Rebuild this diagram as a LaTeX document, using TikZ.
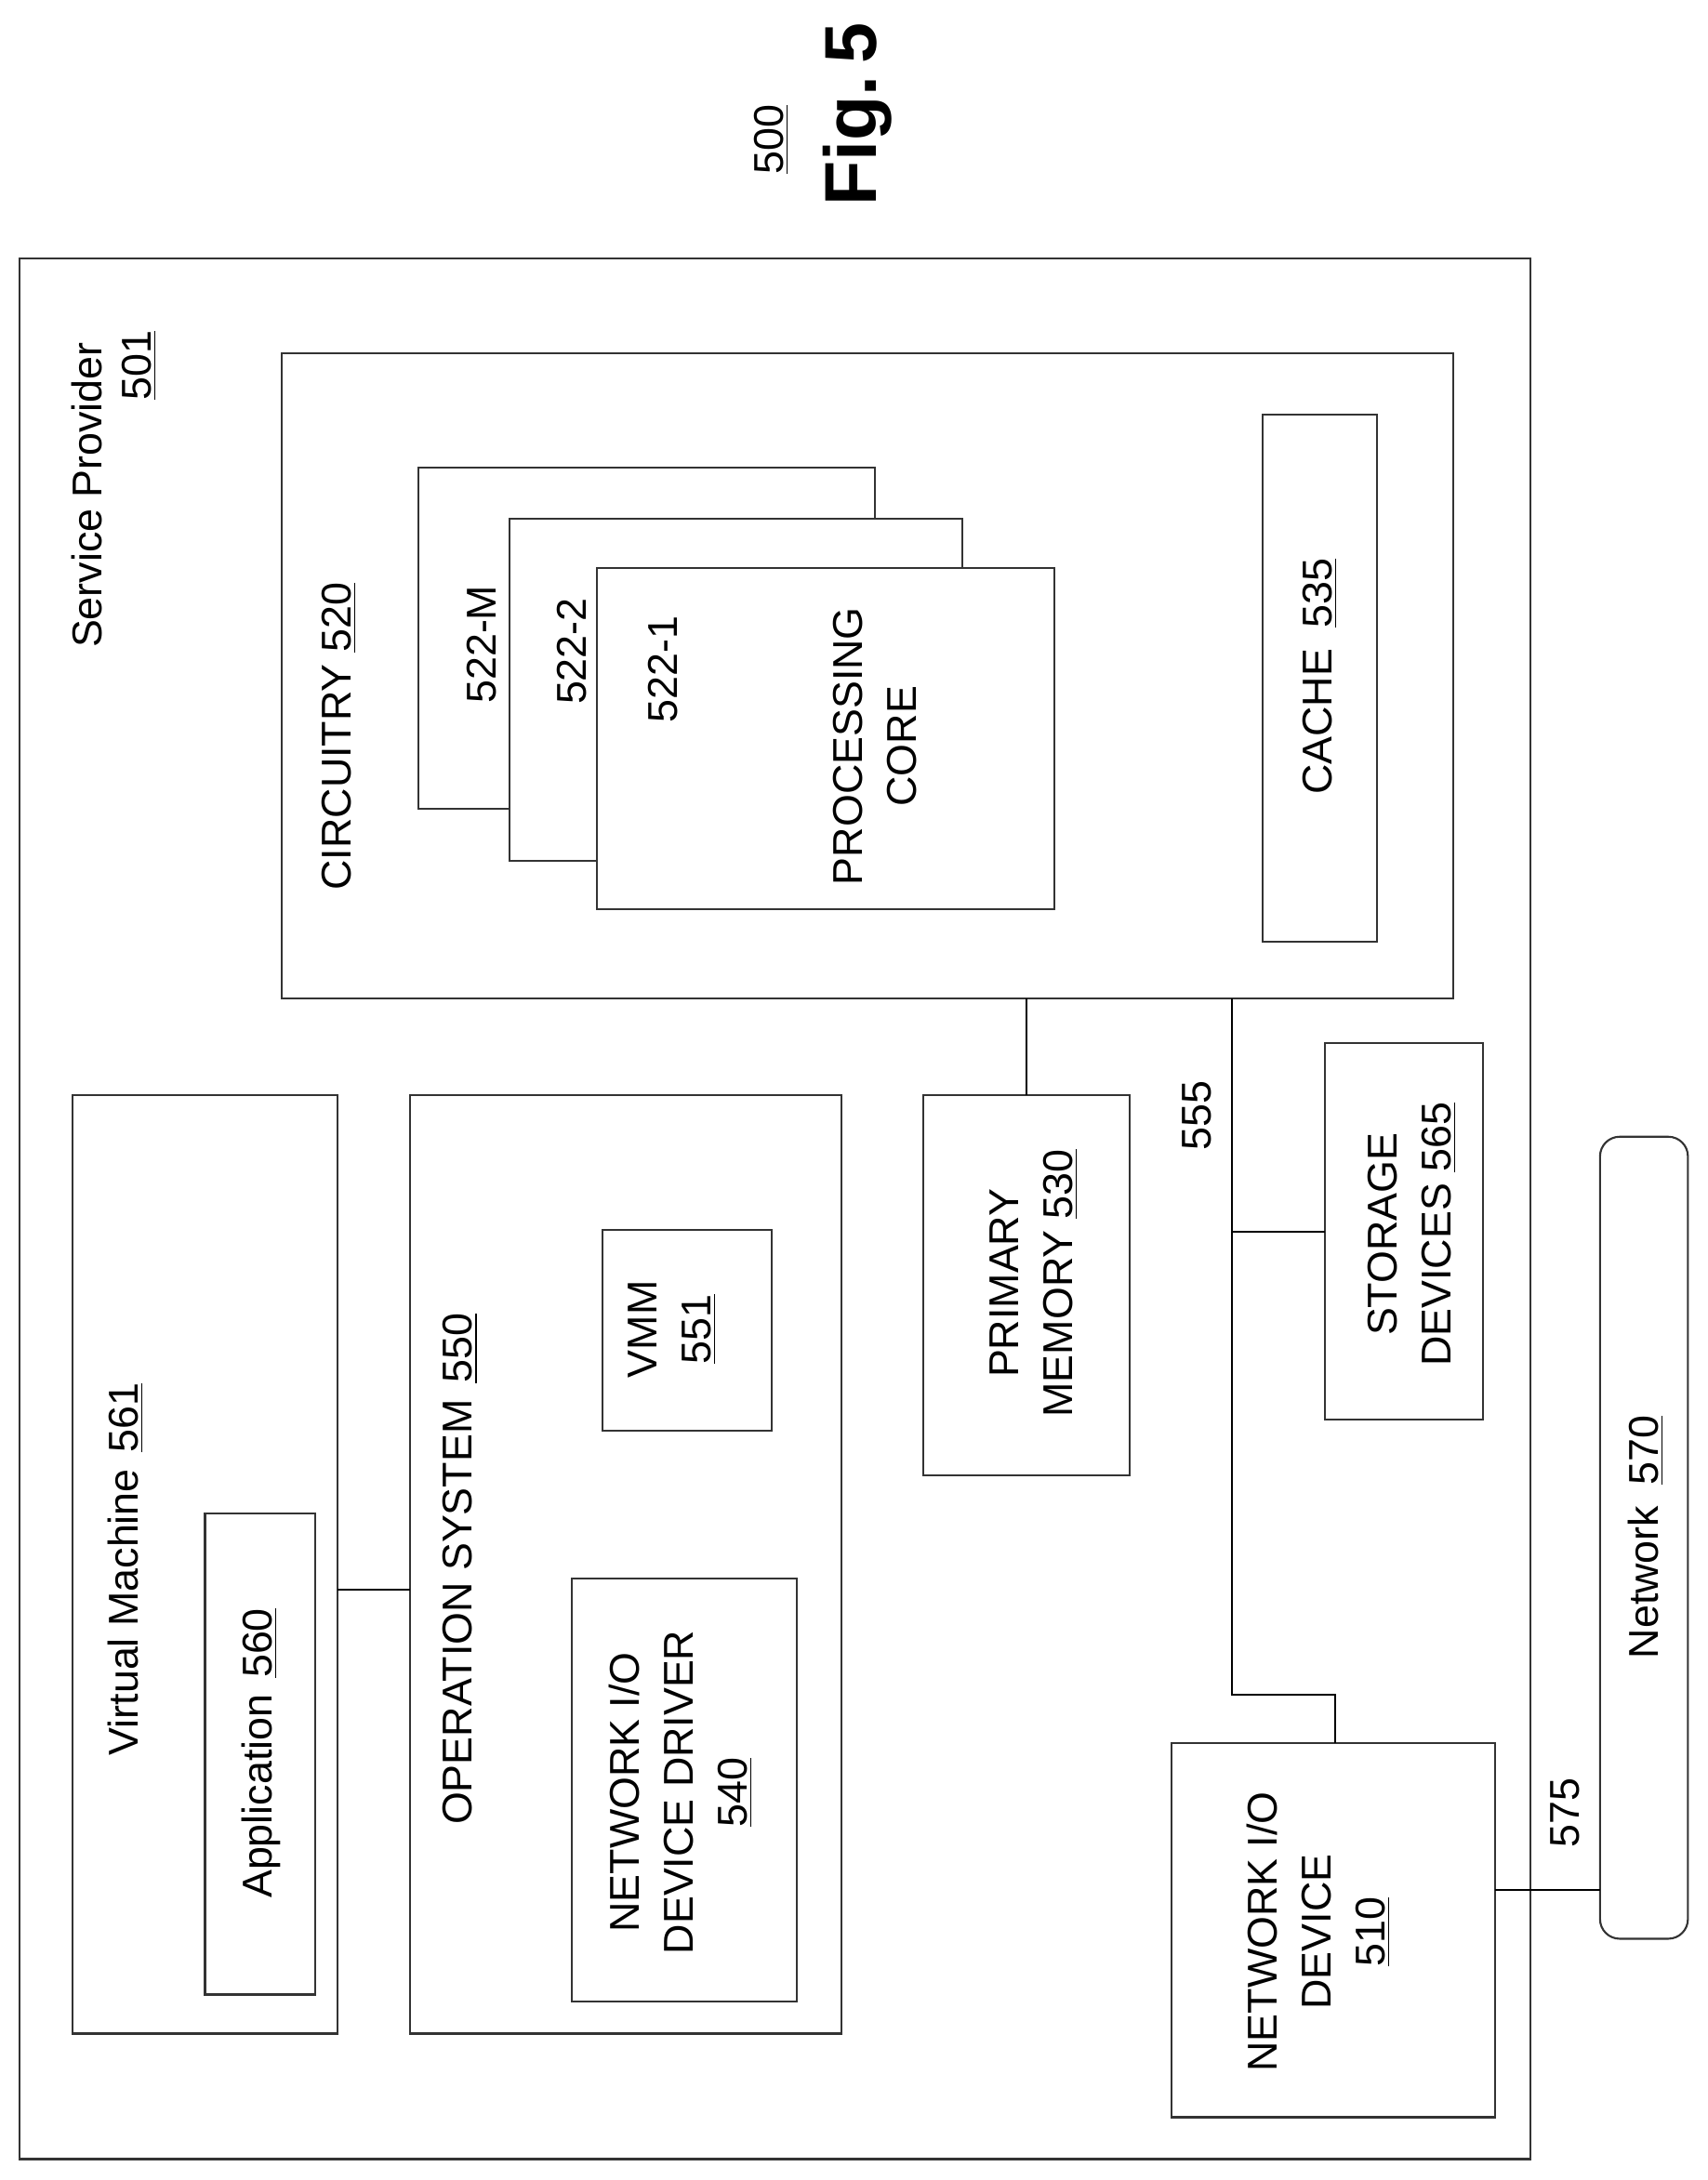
\documentclass[tikz,border=0pt]{standalone}
\usepackage{fontspec}
\setmainfont{Liberation Sans}
\usetikzlibrary{positioning}

\begin{document}
\begin{tikzpicture}[x=0.02cm, y=-0.02cm,
            box/.style={draw=black!80, thick},
            txt/.style={rotate=90, font=\fontsize{17}{22}\selectfont, inner sep=0pt},
            bus/.style={thick}
        ]
\useasboundingbox (0,0) rectangle (1224,1563);

% Figure label
            \node[txt] (fignum) at (553,100) {\underline{500}};
            \node[txt, font=\fontsize{30}{36}\selectfont\bfseries] (figlabel) at (615,82) {Fig.\,5};

% Service provider
            \draw[box] (14,185) rectangle (1097,1548);
            \node[txt] (sp) at (62,355) {Service Provider};
            \node[txt] (sp_num) at (100,262) {\underline{501}};

% Circuitry
            \draw[box] (202,253) rectangle (1042,716);
            \node[txt] (circ) at (243,528) {CIRCUITRY \underline{520}};
            \draw[box, fill=white] (300,335) rectangle (627,580);
            \draw[box, fill=white] (365,372) rectangle (690,617);
            \draw[box, fill=white] (428,407) rectangle (756,652);
            \node[txt] (core_m) at (345,462) {522-M};
            \node[txt] (core_2) at (410,467) {522-2};
            \node[txt] (core_1) at (475,480) {522-1};
            \node[txt, align=center] (core) at (627,535) {PROCESSING\\CORE};
            \draw[box] (905,297) rectangle (987,675);
            \node[txt] (cache) at (946,485) {CACHE\hspace{0.5em}\underline{535}};

% Virtual machine and operating system
            \draw[box] (52,785) rectangle (242,1458);
            \node[txt] (vm) at (90,1125) {Virtual Machine\hspace{0.4em}\underline{561}};
            \draw[box] (147,1085) rectangle (226,1430);
            \node[txt] (app) at (187,1257) {Application\hspace{0.4em}\underline{560}};
            \draw[box] (294,785) rectangle (603,1458);
            \node[txt] (os) at (330,1125) {OPERATION SYSTEM\hspace{0.4em}\underline{550}};
            \draw[box] (432,882) rectangle (553,1026);
            \node[txt, align=center] (vmm) at (482,953) {VMM\\\underline{551}};
            \draw[box] (410,1132) rectangle (571,1435);
            \node[txt, align=center] (driver) at (488,1285) {NETWORK I/O\\DEVICE DRIVER\\\underline{540}};

% Memory, storage, network
            \draw[box] (662,785) rectangle (810,1058);
            \node[txt, align=center] (mem) at (741,920) {PRIMARY\\MEMORY \underline{530}};
            \draw[box] (950,748) rectangle (1063,1018);
            \node[txt, align=center] (storage) at (1012,885) {STORAGE\\DEVICES \underline{565}};
            \draw[box] (840,1250) rectangle (1072,1518);
            \node[txt, align=center] (nic) at (945,1385) {NETWORK I/O\\DEVICE\\\underline{510}};
            \draw[box, rounded corners=8] (1147,815) rectangle (1210,1390);
            \node[txt] (net) at (1180,1102) {Network\hspace{0.5em}\underline{570}};

% Connections
            \coordinate (bus_top) at (883,716);
            \coordinate (bus_bot) at (883,1215);
            \draw[bus] (736,716) -- (736,785);
            \draw[bus] (bus_top) -- (bus_bot) -- (957,1215) -- (957,1250);
            \draw[bus] (883,883) -- (950,883);
            \draw[bus] (242,1140) -- (294,1140);
            \draw[bus] (1072,1355) -- (1147,1355);
            \node[txt] (bus_lbl) at (858,800) {555};
            \node[txt] (link_lbl) at (1122,1300) {575};

        \end{tikzpicture}
\end{document}
